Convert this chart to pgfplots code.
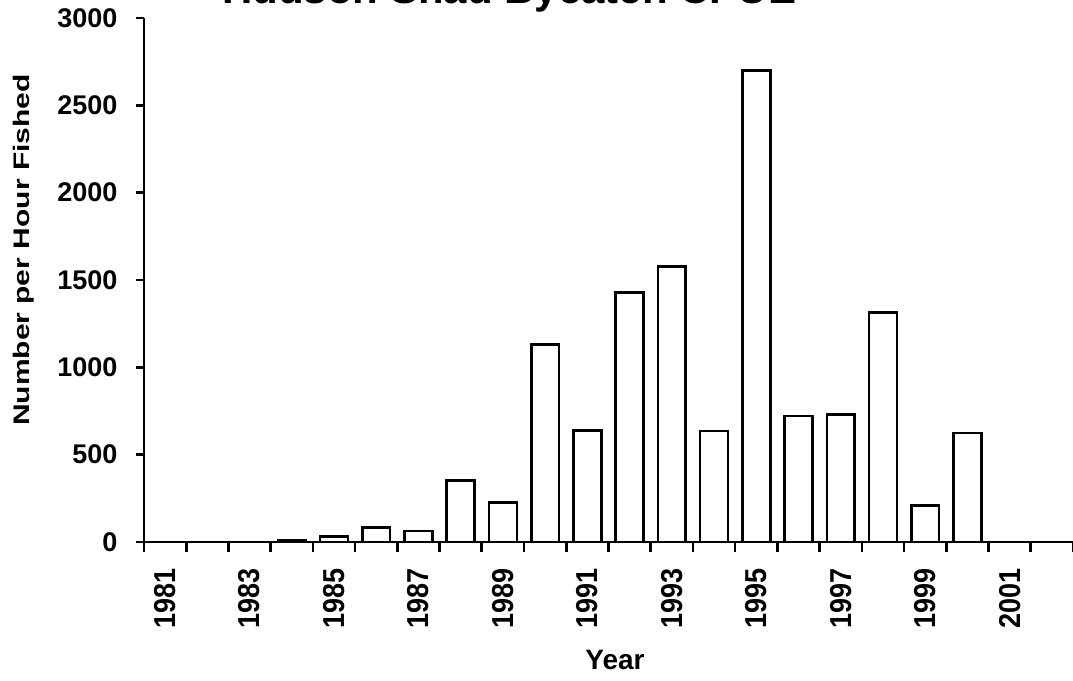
\documentclass[border=0pt]{standalone}
\usepackage{fontspec}
\setmainfont{Liberation Sans}
\usepackage{pgfplots}
\pgfplotsset{compat=1.18}
\usetikzlibrary{calc}
\begin{document}
\begin{tikzpicture}
\begin{axis}[
  name=ax,
  scale only axis,
  width=929pt, height=524pt,
  xmin=1980.5, xmax=2002.5,
  ymin=0, ymax=3000,
  axis x line=bottom, axis y line=left,
  axis line style={line width=2.6pt, -},
  ybar, bar width=0.66,
  xtick={1981,1983,...,2001},
  minor xtick={1980.5,1981.5,...,2002.5},
  ytick={0,500,...,3000},
  scaled y ticks=false,
  tick align=outside,
  major x tick style={draw=none},
  every tick/.style={black, line width=2.6pt},
  major tick length=8pt, minor tick length=10pt,
  /pgf/number format/assume math mode=true,
  /pgf/number format/set thousands separator={},
  x tick label style={yshift=-15pt, rotate=90, yscale=1.12, anchor=east, font=\bfseries\fontsize{27}{27}\selectfont},
  y tick label style={xshift=-15pt, font=\bfseries\fontsize{27}{27}\selectfont},
  title={Hudson Shad Bycatch CPUE},
  title style={at={(rel axis cs:0.393,1.0153)}, anchor=base, font=\bfseries\fontsize{42}{42}\selectfont},
  xlabel={Year},
  xlabel style={at={(rel axis cs:0.507,-0.225)}, anchor=center, font=\bfseries\fontsize{28}{28}\selectfont},
  ylabel={Number per Hour Fished},
  ylabel style={at={(rel axis cs:-0.130,0.557)}, yscale=0.75, anchor=center, font=\bfseries\fontsize{30}{30}\selectfont},
]
\addplot[draw=black, fill=white, line width=2.6pt] coordinates {
  (1981,0) (1982,0) (1983,0) (1984,12) (1985,30) (1986,84) (1987,63)
  (1988,353) (1989,226) (1990,1130) (1991,638) (1992,1430) (1993,1578)
  (1994,636) (1995,2700) (1996,722) (1997,730) (1998,1313) (1999,210)
  (2000,624) (2001,0) (2002,0)
};
\end{axis}
\pgfresetboundingbox
\path[use as bounding box] ($(ax.south west)+(-144pt,-138pt)$) rectangle ($(ax.north east)+(0pt,18pt)$);
\end{tikzpicture}
\end{document}
